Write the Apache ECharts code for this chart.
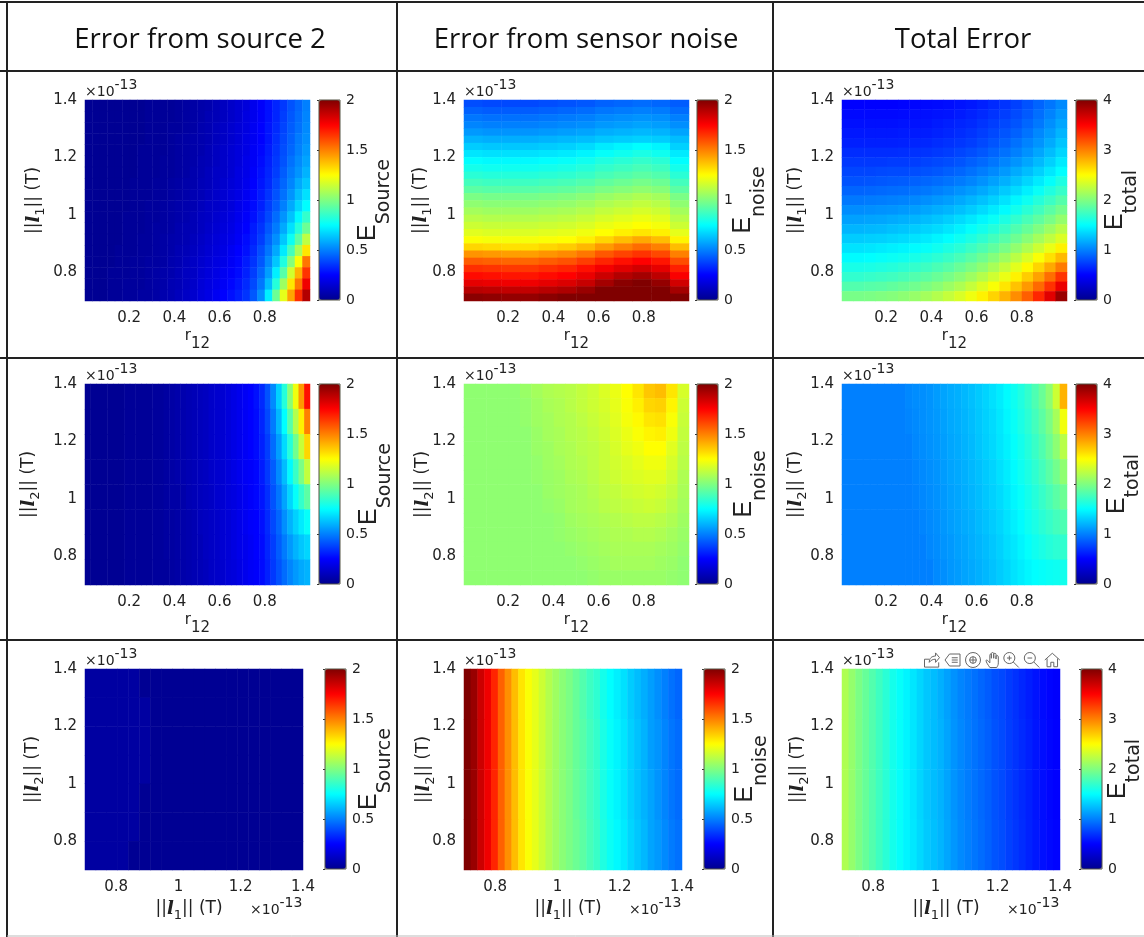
<!DOCTYPE html>
<html>
<head>
<meta charset="utf-8">
<title>Error maps</title>
<script src="https://cdn.jsdelivr.net/npm/echarts@6/dist/echarts.min.js"></script>
<style>
  html, body { margin: 0; padding: 0; background: #fff; }
  #chart { width: 1144px; height: 937px; }
</style>
</head>
<body>
<div id="chart"></div>
<script>
// values, rows go from top (1.4) to bottom (0.7)
const headers = ['Error from source 2', 'Error from sensor noise', 'Total Error'];
const rTicks = [0.2, 0.4, 0.6, 0.8];
const normTicks = [0.8, 1, 1.2, 1.4];

const sourceByL1 = [
  [.01,.01,.01,.01,.01,.01,.01,.01,.02,.02,.02,.02,.03,.04,.05,.06,.07,.09,.11,.13,.15,.17,.21,.24,.28,.32,.36,.41,.45,.50],
  [.01,.01,.01,.01,.01,.01,.01,.01,.02,.02,.02,.02,.03,.04,.05,.06,.08,.09,.11,.13,.15,.18,.21,.24,.28,.32,.37,.42,.46,.51],
  [.01,.01,.01,.01,.01,.01,.01,.01,.02,.02,.02,.03,.03,.04,.05,.07,.08,.10,.12,.14,.16,.18,.22,.25,.29,.33,.38,.43,.47,.52],
  [.01,.01,.01,.01,.01,.01,.01,.01,.02,.02,.02,.03,.04,.05,.06,.07,.08,.10,.12,.14,.16,.19,.22,.25,.29,.34,.39,.44,.49,.53],
  [.01,.01,.01,.01,.01,.01,.01,.02,.02,.02,.02,.03,.04,.05,.06,.07,.09,.11,.13,.15,.17,.19,.23,.26,.30,.35,.40,.45,.50,.55],
  [.01,.01,.01,.01,.01,.01,.01,.02,.02,.02,.03,.03,.04,.05,.06,.08,.09,.11,.13,.15,.17,.20,.23,.27,.31,.36,.41,.47,.52,.57],
  [.01,.01,.01,.01,.01,.01,.01,.02,.02,.02,.03,.03,.04,.05,.07,.08,.10,.12,.13,.15,.18,.20,.24,.28,.32,.37,.43,.49,.54,.60],
  [.01,.01,.01,.01,.01,.01,.02,.02,.02,.03,.03,.04,.05,.06,.07,.09,.10,.12,.14,.16,.18,.21,.25,.29,.33,.39,.45,.51,.58,.64],
  [.01,.01,.01,.01,.01,.01,.02,.02,.02,.03,.03,.04,.05,.06,.08,.09,.11,.13,.15,.17,.19,.22,.26,.30,.35,.41,.47,.54,.62,.69],
  [.01,.01,.01,.01,.01,.01,.02,.02,.03,.03,.04,.05,.06,.07,.08,.10,.12,.13,.15,.17,.20,.23,.27,.31,.37,.43,.50,.58,.67,.75],
  [.01,.01,.01,.01,.01,.02,.02,.02,.03,.03,.04,.05,.06,.07,.09,.11,.12,.14,.16,.18,.21,.24,.28,.33,.39,.46,.54,.63,.74,.85],
  [.01,.01,.01,.01,.01,.02,.02,.02,.03,.04,.04,.05,.07,.08,.09,.11,.13,.15,.17,.19,.22,.25,.30,.35,.42,.49,.58,.69,.82,.96],
  [.01,.01,.01,.01,.01,.02,.02,.03,.03,.04,.05,.06,.07,.08,.10,.12,.14,.16,.18,.20,.23,.27,.31,.37,.45,.53,.64,.77,.93,1.12],
  [.01,.01,.01,.01,.02,.02,.02,.03,.03,.04,.05,.06,.08,.09,.11,.13,.15,.17,.19,.22,.25,.28,.33,.40,.48,.58,.71,.88,1.08,1.30],
  [.01,.01,.01,.01,.02,.02,.03,.03,.04,.04,.05,.07,.08,.10,.12,.14,.16,.18,.20,.23,.26,.30,.35,.42,.52,.64,.81,1.01,1.24,1.52],
  [.01,.01,.01,.02,.02,.02,.03,.03,.04,.05,.06,.07,.09,.11,.12,.15,.17,.19,.22,.24,.27,.31,.37,.45,.56,.72,.92,1.16,1.40,1.65],
  [.01,.01,.01,.02,.02,.03,.03,.03,.04,.05,.06,.08,.09,.11,.13,.16,.18,.20,.23,.26,.29,.33,.39,.48,.62,.82,1.06,1.30,1.52,1.78],
  [.01,.01,.01,.02,.02,.03,.03,.04,.04,.05,.07,.08,.10,.12,.14,.17,.19,.22,.25,.28,.31,.35,.42,.53,.72,.96,1.20,1.43,1.66,1.90]
];
const noiseByL1 = [
  [.40,.39,.39,.39,.40,.41,.42,.44,.45,.46,.45,.43],
  [.44,.43,.43,.43,.44,.45,.46,.48,.49,.50,.49,.46],
  [.48,.47,.47,.47,.48,.49,.50,.52,.53,.54,.53,.50],
  [.51,.50,.50,.50,.51,.52,.53,.55,.56,.57,.56,.53],
  [.55,.54,.54,.54,.55,.56,.57,.59,.60,.61,.60,.57],
  [.60,.59,.59,.59,.60,.61,.62,.64,.65,.66,.65,.62],
  [.65,.64,.64,.64,.65,.66,.68,.71,.73,.75,.73,.66],
  [.70,.69,.69,.69,.70,.71,.73,.76,.78,.80,.78,.71],
  [.75,.74,.74,.74,.75,.76,.78,.81,.83,.85,.83,.75],
  [.79,.78,.78,.78,.79,.80,.82,.85,.87,.89,.87,.79],
  [.83,.82,.82,.82,.83,.84,.86,.89,.91,.93,.91,.83],
  [.88,.87,.87,.87,.88,.89,.91,.94,.96,.98,.96,.88],
  [.93,.92,.92,.92,.93,.94,.96,.99,1.01,1.03,1.01,.93],
  [.99,.98,.98,.98,.99,1.00,1.02,1.05,1.07,1.09,1.07,.99],
  [1.03,1.02,1.02,1.02,1.03,1.04,1.06,1.09,1.11,1.13,1.11,1.03],
  [1.07,1.06,1.06,1.06,1.07,1.08,1.10,1.13,1.15,1.17,1.15,1.07],
  [1.11,1.10,1.10,1.10,1.11,1.12,1.14,1.17,1.19,1.21,1.19,1.11],
  [1.15,1.14,1.14,1.14,1.15,1.16,1.18,1.21,1.23,1.25,1.23,1.15],
  [1.19,1.18,1.18,1.18,1.19,1.20,1.22,1.25,1.28,1.30,1.28,1.20],
  [1.24,1.23,1.23,1.23,1.24,1.25,1.28,1.33,1.38,1.42,1.38,1.27],
  [1.33,1.32,1.31,1.31,1.33,1.35,1.39,1.45,1.50,1.54,1.50,1.38],
  [1.46,1.45,1.44,1.44,1.46,1.48,1.52,1.58,1.62,1.65,1.61,1.50],
  [1.57,1.56,1.55,1.55,1.57,1.59,1.63,1.68,1.72,1.75,1.71,1.60],
  [1.66,1.65,1.64,1.64,1.66,1.68,1.72,1.77,1.81,1.84,1.80,1.69],
  [1.73,1.72,1.71,1.71,1.73,1.75,1.79,1.85,1.90,1.93,1.88,1.76],
  [1.80,1.79,1.78,1.78,1.80,1.82,1.86,1.93,1.98,2,1.96,1.84],
  [1.89,1.88,1.87,1.87,1.89,1.91,1.95,2,2,2,2,1.93],
  [1.98,1.97,1.96,1.96,1.98,2,2,2,2,2,2,2]
];
const totalByL1 = [
  [.50,.50,.50,.50,.50,.51,.52,.53,.54,.55,.57,.59,.62,.66,.70,.75,.82,.89,.96,1.04],
  [.53,.53,.53,.53,.53,.54,.55,.56,.57,.58,.60,.63,.66,.70,.74,.79,.85,.93,1.01,1.10],
  [.56,.56,.56,.56,.56,.57,.57,.58,.60,.62,.64,.66,.70,.74,.78,.83,.90,.97,1.06,1.15],
  [.59,.59,.59,.59,.59,.60,.60,.61,.63,.65,.67,.70,.74,.78,.83,.88,.95,1.03,1.11,1.21],
  [.62,.62,.62,.62,.62,.63,.64,.65,.67,.69,.71,.74,.78,.83,.88,.94,1.01,1.08,1.17,1.27],
  [.67,.67,.67,.67,.67,.68,.69,.70,.72,.74,.77,.80,.84,.89,.94,1.00,1.07,1.15,1.24,1.34],
  [.72,.72,.72,.72,.73,.73,.74,.76,.78,.80,.83,.87,.91,.96,1.02,1.08,1.15,1.23,1.32,1.42],
  [.77,.77,.77,.78,.79,.79,.80,.82,.84,.87,.90,.94,.99,1.04,1.10,1.17,1.24,1.32,1.41,1.50],
  [.82,.82,.83,.84,.85,.86,.88,.90,.92,.95,.98,1.02,1.07,1.13,1.19,1.26,1.34,1.42,1.51,1.61],
  [.89,.89,.90,.91,.92,.93,.95,.97,1.00,1.03,1.07,1.11,1.16,1.22,1.29,1.36,1.44,1.53,1.62,1.71],
  [.97,.97,.98,.99,1.00,1.01,1.03,1.06,1.09,1.12,1.16,1.21,1.26,1.32,1.39,1.47,1.55,1.64,1.73,1.83],
  [1.05,1.05,1.06,1.07,1.08,1.10,1.12,1.15,1.18,1.21,1.25,1.30,1.36,1.42,1.49,1.57,1.66,1.75,1.85,1.95],
  [1.13,1.13,1.14,1.15,1.17,1.19,1.21,1.24,1.27,1.31,1.36,1.41,1.47,1.53,1.61,1.69,1.78,1.87,1.97,2.08],
  [1.21,1.21,1.22,1.23,1.25,1.27,1.30,1.33,1.36,1.40,1.45,1.51,1.57,1.64,1.72,1.81,1.90,2.00,2.11,2.22],
  [1.30,1.30,1.31,1.32,1.34,1.36,1.39,1.42,1.46,1.50,1.55,1.61,1.68,1.76,1.84,1.93,2.03,2.14,2.25,2.36],
  [1.39,1.39,1.40,1.42,1.44,1.46,1.49,1.52,1.56,1.61,1.66,1.73,1.80,1.88,1.97,2.07,2.18,2.30,2.42,2.55],
  [1.49,1.49,1.50,1.52,1.54,1.56,1.59,1.63,1.67,1.72,1.78,1.85,1.93,2.02,2.12,2.23,2.35,2.48,2.62,2.77],
  [1.59,1.59,1.60,1.62,1.64,1.67,1.70,1.74,1.79,1.84,1.91,1.98,2.06,2.16,2.27,2.39,2.52,2.67,2.84,3.02],
  [1.69,1.69,1.71,1.73,1.75,1.78,1.82,1.86,1.91,1.97,2.04,2.12,2.21,2.31,2.42,2.55,2.70,2.87,3.07,3.30],
  [1.82,1.82,1.84,1.85,1.88,1.91,1.94,1.99,2.04,2.11,2.18,2.27,2.37,2.48,2.60,2.74,2.90,3.09,3.31,3.58],
  [1.97,1.97,1.98,2.00,2.02,2.05,2.09,2.14,2.20,2.27,2.35,2.44,2.55,2.67,2.80,2.95,3.13,3.35,3.62,3.90]
];
const sourceByL2 = [
  [.01,.01,.01,.01,.01,.01,.01,.02,.02,.02,.02,.02,.03,.03,.04,.05,.06,.07,.08,.09,.10,.11,.13,.14,.15,.17,.19,.21,.23,.25,.28,.33,.41,.52,.66,.82,1.02,1.22,1.45,1.72],
  [.01,.01,.01,.01,.01,.01,.01,.02,.02,.02,.02,.02,.03,.03,.04,.05,.06,.07,.08,.09,.10,.11,.13,.14,.15,.17,.19,.21,.23,.25,.27,.32,.39,.49,.61,.75,.92,1.10,1.28,1.50],
  [.01,.01,.01,.01,.01,.01,.01,.02,.02,.02,.02,.02,.03,.03,.04,.05,.06,.07,.08,.09,.10,.11,.13,.14,.15,.17,.19,.21,.23,.25,.27,.31,.37,.46,.56,.68,.82,.97,1.14,1.33],
  [.01,.01,.01,.01,.01,.01,.01,.02,.02,.02,.02,.02,.03,.03,.04,.05,.06,.07,.08,.09,.10,.11,.13,.14,.15,.17,.19,.21,.23,.24,.26,.30,.36,.43,.52,.62,.74,.86,.99,1.13],
  [.01,.01,.01,.01,.01,.01,.01,.02,.02,.02,.02,.02,.03,.03,.04,.05,.05,.06,.08,.09,.10,.11,.12,.14,.15,.17,.18,.20,.22,.24,.26,.29,.34,.41,.48,.57,.67,.76,.85,.93],
  [.01,.01,.01,.01,.01,.01,.01,.02,.02,.02,.02,.02,.03,.03,.04,.04,.05,.06,.07,.08,.10,.11,.12,.13,.15,.16,.18,.20,.22,.24,.25,.28,.33,.39,.45,.53,.60,.66,.71,.76],
  [.01,.01,.01,.01,.01,.01,.01,.02,.02,.02,.02,.02,.03,.03,.04,.04,.05,.06,.07,.08,.09,.11,.12,.13,.15,.16,.18,.20,.21,.23,.25,.27,.32,.37,.43,.49,.55,.60,.64,.67],
  [.01,.01,.01,.01,.01,.01,.01,.02,.02,.02,.02,.02,.03,.03,.03,.04,.05,.06,.07,.08,.09,.10,.12,.13,.14,.16,.17,.19,.21,.23,.24,.27,.31,.36,.41,.46,.51,.55,.58,.60]
];
const noiseByL2 = [
  [1.03,1.03,1.03,1.03,1.03,1.05,1.07,1.09,1.10,1.11,1.13,1.15,1.18,1.21,1.25,1.30,1.36,1.38,1.30,1.17],
  [1.03,1.03,1.03,1.03,1.03,1.04,1.06,1.08,1.09,1.11,1.13,1.15,1.17,1.20,1.24,1.28,1.33,1.34,1.27,1.15],
  [1.03,1.03,1.03,1.03,1.03,1.04,1.06,1.07,1.09,1.10,1.12,1.14,1.16,1.19,1.23,1.26,1.30,1.31,1.24,1.14],
  [1.03,1.03,1.03,1.03,1.03,1.03,1.05,1.07,1.08,1.10,1.11,1.13,1.15,1.18,1.21,1.24,1.27,1.28,1.22,1.13],
  [1.03,1.03,1.03,1.03,1.03,1.03,1.05,1.06,1.08,1.09,1.11,1.12,1.14,1.17,1.20,1.22,1.25,1.25,1.19,1.12],
  [1.03,1.03,1.03,1.03,1.03,1.03,1.04,1.06,1.07,1.09,1.10,1.12,1.14,1.16,1.18,1.20,1.22,1.22,1.17,1.11],
  [1.03,1.03,1.03,1.03,1.03,1.03,1.04,1.05,1.06,1.08,1.09,1.11,1.13,1.15,1.17,1.18,1.19,1.19,1.15,1.09],
  [1.03,1.03,1.03,1.03,1.03,1.03,1.03,1.05,1.06,1.07,1.08,1.10,1.12,1.13,1.15,1.16,1.17,1.16,1.13,1.08],
  [1.03,1.03,1.03,1.03,1.03,1.03,1.03,1.04,1.05,1.07,1.08,1.09,1.11,1.12,1.13,1.14,1.15,1.14,1.11,1.07],
  [1.03,1.03,1.03,1.03,1.03,1.03,1.03,1.03,1.04,1.06,1.07,1.08,1.09,1.10,1.11,1.12,1.12,1.11,1.09,1.06],
  [1.03,1.03,1.03,1.03,1.03,1.03,1.03,1.03,1.04,1.05,1.06,1.07,1.08,1.09,1.09,1.10,1.10,1.09,1.07,1.05],
  [1.03,1.03,1.03,1.03,1.03,1.03,1.03,1.03,1.03,1.04,1.05,1.06,1.07,1.08,1.08,1.08,1.08,1.07,1.06,1.04],
  [1.03,1.03,1.03,1.03,1.03,1.03,1.03,1.03,1.03,1.03,1.04,1.05,1.06,1.07,1.07,1.07,1.07,1.06,1.05,1.03],
  [1.03,1.03,1.03,1.03,1.03,1.03,1.03,1.03,1.03,1.03,1.03,1.04,1.05,1.05,1.05,1.05,1.05,1.05,1.04,1.03]
];
const totalByL2 = [
  [1,1,1,1,1,1,1,1,1,1.03,1.05,1.06,1.08,1.11,1.14,1.17,1.19,1.22,1.25,1.29,1.33,1.38,1.43,1.49,1.55,1.62,1.70,1.80,1.91,2.05,2.30,2.80],
  [1,1,1,1,1,1,1,1,1,1.02,1.04,1.06,1.08,1.10,1.13,1.16,1.18,1.21,1.24,1.28,1.32,1.36,1.41,1.47,1.53,1.60,1.67,1.76,1.86,1.98,2.15,2.45],
  [1,1,1,1,1,1,1,1,1,1,1.03,1.05,1.07,1.09,1.12,1.15,1.17,1.20,1.23,1.27,1.31,1.35,1.40,1.45,1.51,1.57,1.64,1.72,1.81,1.92,2.05,2.22],
  [1,1,1,1,1,1,1,1,1,1,1.02,1.04,1.06,1.08,1.11,1.14,1.16,1.19,1.22,1.25,1.29,1.33,1.38,1.43,1.49,1.55,1.61,1.68,1.76,1.85,1.95,2.06],
  [1,1,1,1,1,1,1,1,1,1,1.01,1.03,1.05,1.07,1.10,1.13,1.15,1.18,1.21,1.24,1.28,1.32,1.36,1.41,1.47,1.52,1.58,1.64,1.71,1.78,1.85,1.92],
  [1,1,1,1,1,1,1,1,1,1,1,1.02,1.04,1.06,1.09,1.12,1.14,1.17,1.19,1.23,1.26,1.30,1.34,1.39,1.44,1.49,1.55,1.60,1.66,1.71,1.76,1.80],
  [1,1,1,1,1,1,1,1,1,1,1,1,1.03,1.05,1.08,1.10,1.13,1.15,1.18,1.21,1.24,1.28,1.32,1.37,1.41,1.46,1.51,1.56,1.60,1.64,1.67,1.69],
  [1,1,1,1,1,1,1,1,1,1,1,1,1,1.04,1.06,1.09,1.11,1.14,1.16,1.19,1.22,1.26,1.30,1.34,1.39,1.43,1.47,1.50,1.52,1.54,1.55,1.57]
];
const sourceByNorms = [
  [.04,.04,.04,.04,.04,.01,.01,.01,.01,.01,.01,.01,.01,.01,.01,.01,.01,.01,.01,.01],
  [.04,.04,.04,.04,.04,.04,.01,.01,.01,.01,.01,.01,.01,.01,.01,.01,.01,.01,.01,.01],
  [.04,.04,.04,.04,.04,.04,.01,.01,.01,.01,.01,.01,.01,.01,.01,.01,.01,.01,.01,.01],
  [.04,.04,.04,.04,.04,.04,.01,.01,.01,.01,.01,.01,.01,.01,.01,.01,.01,.01,.01,.01],
  [.04,.04,.04,.04,.04,.01,.01,.01,.01,.01,.01,.01,.01,.01,.01,.01,.01,.01,.01,.01],
  [.04,.04,.04,.04,.04,.01,.01,.01,.01,.01,.01,.01,.01,.01,.01,.01,.01,.01,.01,.01],
  [.04,.04,.04,.04,.01,.01,.01,.01,.01,.01,.01,.01,.01,.01,.01,.01,.01,.01,.01,.01]
];
const noiseByNorms = [
  [2,1.95,1.85,1.78,1.68,1.56,1.47,1.38,1.30,1.24,1.20,1.15,1.10,1.06,1.02,.99,.95,.91,.87,.84,.79,.75,.72,.69,.65,.62,.59,.56,.53,.50,.47,.45],
  [2,1.95,1.85,1.78,1.68,1.56,1.47,1.38,1.30,1.24,1.20,1.15,1.10,1.06,1.02,.99,.95,.92,.88,.85,.80,.76,.73,.70,.66,.63,.60,.56,.54,.51,.48,.46],
  [2,1.95,1.85,1.78,1.68,1.56,1.47,1.38,1.30,1.24,1.20,1.15,1.10,1.06,1.02,.99,.95,.92,.88,.85,.80,.76,.73,.70,.66,.63,.60,.57,.54,.51,.48,.46],
  [2,1.95,1.85,1.78,1.68,1.56,1.47,1.38,1.30,1.24,1.20,1.15,1.10,1.06,1.02,.99,.96,.93,.89,.86,.81,.77,.74,.71,.67,.64,.61,.57,.55,.52,.49,.47]
];
const totalByNorms = [
  [2.18,2.08,1.98,1.90,1.82,1.74,1.66,1.58,1.52,1.46,1.40,1.34,1.28,1.24,1.19,1.13,1.07,1.02,.98,.94,.90,.86,.81,.78,.73,.69,.65,.61,.57,.54,.51,.49],
  [2.18,2.08,1.98,1.90,1.82,1.74,1.66,1.58,1.52,1.46,1.40,1.34,1.28,1.24,1.20,1.14,1.08,1.03,.99,.95,.91,.87,.82,.79,.74,.70,.66,.62,.58,.55,.52,.50],
  [2.18,2.08,1.98,1.90,1.82,1.74,1.66,1.58,1.52,1.46,1.40,1.34,1.28,1.24,1.20,1.14,1.08,1.03,.99,.95,.91,.87,.82,.79,.74,.70,.66,.62,.58,.55,.52,.50],
  [2.18,2.08,1.98,1.90,1.82,1.74,1.66,1.58,1.52,1.46,1.41,1.35,1.29,1.25,1.21,1.15,1.09,1.04,1.00,.96,.92,.88,.83,.80,.75,.71,.67,.63,.59,.56,.53,.51]
];

const jet = ['#00008f', '#0000ff', '#0080ff', '#00ffff', '#80ff80', '#ffff00', '#ff8000', '#ff0000', '#800000'];
const font = 'DejaVu Sans';
const ink = '#222';

const columns = [
  { wideLeft: 85, wideCb: 319, narrowCb: 325, title: 200 },
  { wideLeft: 464, wideCb: 697, narrowCb: 704, title: 586 },
  { wideLeft: 842, wideCb: 1076, narrowCb: 1081, title: 963 }
];

// layout of the 3x3 table
const panels = [
  { values: sourceByL1, col: 0, top: 100, bottomRow: false, xKey: 'r', yName: 1, label: 'Source', max: 2, yGap: 38, cbGap: 16 },
  { values: noiseByL1, col: 1, top: 100, bottomRow: false, xKey: 'r', yName: 1, label: 'noise', max: 2, yGap: 30, cbGap: 13 },
  { values: totalByL1, col: 2, top: 100, bottomRow: false, xKey: 'r', yName: 1, label: 'total', max: 4, yGap: 33, cbGap: 6 },
  { values: sourceByL2, col: 0, top: 384, bottomRow: false, xKey: 'r', yName: 2, label: 'Source', max: 2, yGap: 43, cbGap: 17 },
  { values: noiseByL2, col: 1, top: 384, bottomRow: false, xKey: 'r', yName: 2, label: 'noise', max: 2, yGap: 28, cbGap: 14 },
  { values: totalByL2, col: 2, top: 384, bottomRow: false, xKey: 'r', yName: 2, label: 'total', max: 4, yGap: 33, cbGap: 8 },
  { values: sourceByNorms, col: 0, top: 669, bottomRow: true, xKey: 'l', yName: 2, label: 'Source', max: 2, yGap: 39, cbGap: 11 },
  { values: noiseByNorms, col: 1, top: 669, bottomRow: true, xKey: 'l', yName: 2, label: 'noise', max: 2, yGap: 27, cbGap: 8 },
  { values: totalByNorms, col: 2, top: 669, bottomRow: true, xKey: 'l', yName: 2, label: 'total', max: 4, yGap: 31, cbGap: 4 }
];

// subscripts: main text sits at the top of the line, the small text at the bottom of a taller one
const normRich = {
  t: { fontFamily: font, fontSize: 17, color: ink, lineHeight: 20, verticalAlign: 'top' },
  l: { fontFamily: 'DejaVu Serif', fontWeight: 'bold', fontStyle: 'italic', fontSize: 18, color: ink, lineHeight: 20, verticalAlign: 'top' },
  s: { fontFamily: font, fontSize: 13, color: ink, lineHeight: 22, verticalAlign: 'bottom' }
};
const rRich = {
  t: { fontFamily: font, fontSize: 15, color: ink, lineHeight: 17, verticalAlign: 'top' },
  s: { fontFamily: font, fontSize: 15, color: ink, lineHeight: 23, verticalAlign: 'bottom' }
};
const cbRich = {
  e: { fontFamily: 'Liberation Sans', fontSize: 25, color: ink, lineHeight: 25, verticalAlign: 'top' },
  s: { fontFamily: font, fontSize: 19, color: ink, lineHeight: 38, verticalAlign: 'bottom' }
};
const expRich = {
  b: { fontFamily: font, fontWeight: 'normal', fontSize: 14, color: ink, lineHeight: 21, verticalAlign: 'bottom' },
  e: { fontFamily: font, fontWeight: 'normal', fontSize: 14, color: ink, lineHeight: 15, verticalAlign: 'top' }
};

const grid = [], xAxis = [], yAxis = [], series = [], visualMap = [];
const title = headers.map((text, i) => ({
  text, left: columns[i].title, top: 26, textAlign: 'center', padding: 0,
  textStyle: { fontFamily: 'Open Sans', fontSize: 27.5, fontWeight: 'normal', color: '#111' }
}));

function normName(i) {
  return `{t|||}{l|l}{s|${i}}{t||| (T)}`;
}

panels.forEach((p, i) => {
  const col = columns[p.col];
  const left = col.wideLeft;
  const width = p.bottomRow ? 218 : 225;
  const height = 201;
  const cbLeft = p.bottomRow ? col.narrowCb : col.wideCb;
  const rows = p.values.length;
  const gridIdx = grid.length;
  const xIdx = xAxis.length;
  const yIdx = yAxis.length;

  grid.push({ left, top: p.top, width, height, outerBoundsMode: 'none' });
  grid.push({ left: cbLeft, top: p.top, width: 21, height: height - 1, outerBoundsMode: 'none', show: true, z: 5, backgroundColor: 'transparent', borderColor: '#554', borderWidth: 1 });

  // heatmap cells sit on hidden category axes, the ticks come from the value axes
  xAxis.push({ type: 'category', gridIndex: gridIdx, show: false, data: p.values[0].map((_, k) => k) });
  xAxis.push({
    type: 'value', gridIndex: gridIdx, position: 'bottom',
    min: p.xKey === 'r' ? 0.005 : 0.7, max: p.xKey === 'r' ? 1 : 1.4,
    name: p.xKey === 'r' ? '{t|r}{s|12}' : normName(1),
    nameLocation: 'middle', nameGap: p.xKey === 'r' ? 28 : 30, nameMoveOverlap: false,
    nameTextStyle: { rich: p.xKey === 'r' ? rRich : normRich, padding: p.xKey === 'r' ? 0 : [0, 10, 0, 0] },
    axisLine: { show: false }, axisTick: { show: false }, splitLine: { show: false },
    axisLabel: { customValues: p.xKey === 'r' ? rTicks : normTicks, margin: 10, fontFamily: font, fontSize: 15, color: ink }
  });
  xAxis.push({ type: 'value', gridIndex: gridIdx + 1, show: false, min: 0, max: 1 });

  yAxis.push({ type: 'category', gridIndex: gridIdx, show: false, data: p.values.map((_, k) => k) });
  yAxis.push({
    type: 'value', gridIndex: gridIdx, position: 'left', min: 0.7, max: 1.4,
    name: normName(p.yName), nameLocation: 'middle', nameGap: p.yGap, nameRotate: 90, nameMoveOverlap: false,
    nameTextStyle: { rich: normRich },
    axisLine: { show: false }, axisTick: { show: false }, splitLine: { show: false },
    axisLabel: { customValues: normTicks, margin: 8, padding: [4, 0, 0, 0], fontFamily: font, fontSize: 15, color: ink }
  });
  yAxis.push({
    type: 'value', gridIndex: gridIdx + 1, position: 'right', min: 0, max: p.max, interval: p.max / 4,
    name: `{e|E}{s|${p.label}}`, nameLocation: 'middle', nameGap: p.cbGap, nameRotate: 90, nameMoveOverlap: false,
    nameTextStyle: { rich: cbRich },
    axisLine: { show: false }, axisTick: { show: true, inside: true, length: 2, lineStyle: { color: '#333' } },
    splitLine: { show: false },
    axisLabel: { margin: 6, padding: [3, 0, 0, 0], fontFamily: font, fontSize: 14, color: ink }
  });

  const cells = [];
  p.values.forEach((row, r) => row.forEach((v, c) => cells.push([c, rows - 1 - r, v])));
  series.push({
    type: 'heatmap', xAxisIndex: xIdx, yAxisIndex: yIdx, data: cells,
    progressive: 0, animation: false, emphasis: { disabled: true }
  });

  visualMap.push({
    type: 'continuous', seriesIndex: i, min: 0, max: p.max, calculable: false, hoverLink: false,
    left: cbLeft, top: p.top, itemWidth: 21, itemHeight: height - 1, padding: 0, z: 1,
    text: null, inRange: { color: jet }
  });

  title.push({ text: '{b|×10}{e|-13}', left: left, top: p.top - 22, padding: 0, textStyle: { rich: expRich } });
  if (p.bottomRow) {
    title.push({ text: '{b|×10}{e|-13}', left: left + width - 53, top: p.top + height + 26, padding: 0, textStyle: { rich: expRich } });
  }
});

// table rules
const rule = (x1, y1, x2, y2, w, c) => ({
  type: 'line', silent: true, z: 10,
  shape: { x1, y1, x2, y2 }, style: { stroke: c || '#222', lineWidth: w || 2 }
});
const graphic = [
  rule(0, 2, 1144, 2), rule(7, 2, 7, 937), rule(0, 71, 1144, 71),
  rule(0, 358, 1144, 358), rule(0, 640, 1144, 640),
  rule(397, 2, 397, 937), rule(773, 2, 773, 937),
  rule(7, 936, 1144, 936, 1, '#bbb')
];

// figure toolbar left in the lower right panel
const toolbox = {
  left: 922, top: 650, itemSize: 15, itemGap: 0.5, padding: 0, showTitle: false,
  iconStyle: { color: 'none', borderColor: '#666', borderWidth: 1 },
  feature: {
    myExport: { show: true, title: 'export', onclick() {}, icon: 'path://M3 22V12h6M3 22h18v-6M9 16c0-5 3-8 8-8V4l5 6-5 6v-4c-3 0-6 1-8 4' },
    myLegend: { show: true, title: 'legend', onclick() {}, icon: 'path://M8 4h14v16H8L2 12zM11 9h8M11 12h8M11 15h8' },
    myRotate: { show: true, title: 'rotate', onclick() {}, icon: 'path://M12 3a9 9 0 1 1-.01 0M12 8a4 4 0 1 1-.01 0M12 8v8M8 12h8' },
    myPan: { show: true, title: 'pan', onclick() {}, icon: 'path://M7 22c-2-3-5-7-5-9 0-1 2-1 3 1l2 2V6c0-2 2-2 2 0v4V4c0-2 3-2 3 0v6V5c0-2 3-2 3 0v6V8c0-2 3-2 3 0v8c0 3-1 4-2 6z' },
    myZoomIn: { show: true, title: 'zoom in', onclick() {}, icon: 'path://M10 3a7 7 0 1 1-.01 0M15 15l7 7M10 7v6M7 10h6' },
    myZoomOut: { show: true, title: 'zoom out', onclick() {}, icon: 'path://M10 3a7 7 0 1 1-.01 0M15 15l7 7M7 10h6' },
    myHome: { show: true, title: 'home', onclick() {}, icon: 'path://M2 12L12 3l10 9M5 10v11h5v-6h4v6h5V10' }
  }
};

const chart = echarts.init(document.getElementById('chart'), null, { renderer: 'canvas' });
chart.setOption({
  backgroundColor: '#fff', animation: false,
  title, grid, xAxis, yAxis, series, visualMap, graphic, toolbox
});
</script>
</body>
</html>
